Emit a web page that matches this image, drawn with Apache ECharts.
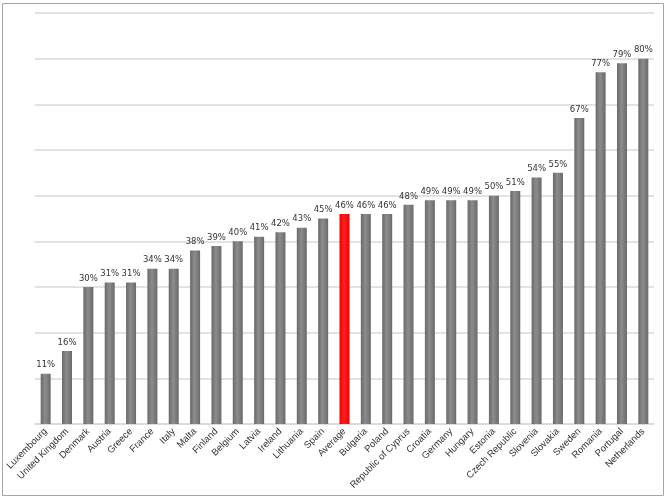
<!DOCTYPE html>
<html><head><meta charset="utf-8">
<script src="https://cdn.jsdelivr.net/npm/echarts@6/dist/echarts.min.js"></script>
<style>body{margin:0;background:#fff}#c{width:666px;height:500px}</style>
</head><body><div id="c"></div>
<script>
const categories = ["Luxembourg","United Kingdom","Denmark","Austria","Greece","France","Italy","Malta","Finland","Belgium","Latvia","Ireland","Lithuania","Spain","Average","Bulgaria","Poland","Republic of Cyprus","Croatia","Germany","Hungary","Estonia","Czech Republic","Slovenia","Slovakia","Sweden","Romania","Portugal","Netherlands"];
const values = [11,16,30,31,31,34,34,38,39,40,41,42,43,45,46,46,46,48,49,49,49,50,51,54,55,67,77,79,80];
const highlight = "Average";

const grayGrad = {type:'linear',x:0,y:0,x2:1,y2:0,colorStops:[{offset:0,color:'#6a6a6a'},{offset:0.45,color:'#8c8c8c'},{offset:1,color:'#6a6a6a'}]};
const redGrad = {type:'linear',x:0,y:0,x2:1,y2:0,colorStops:[{offset:0,color:'#ee0000'},{offset:0.45,color:'#ff2020'},{offset:1,color:'#ee0000'}]};

const chart = echarts.init(document.getElementById('c'));
chart.setOption({
  animation:false,
  graphic:[{type:'rect',shape:{x:2.5,y:3.5,width:661,height:492},style:{fill:'none',stroke:'#a6a6a6',lineWidth:1}}],
  grid:{left:35,right:12,top:13,bottom:76},
  xAxis:{type:'category',data:categories,
    axisLine:{show:true,lineStyle:{color:'#d9d9d9',width:1.5}},
    axisTick:{show:false},
    axisLabel:{rotate:45,interval:0,fontSize:9.5,color:'#333',fontFamily:'Liberation Sans, Arial',margin:6}},
  yAxis:{type:'value',min:0,max:90,interval:10,
    axisLabel:{show:false},axisLine:{show:false},axisTick:{show:false},
    splitLine:{lineStyle:{color:'#d9d9d9',width:1.5}}},
  series:[{type:'bar',barWidth:10,
    data:values.map((v,i)=>({value:v,itemStyle:{color: categories[i]===highlight?redGrad:grayGrad}})),
    label:{show:true,position:'top',formatter:'{c}%',fontSize:8.5,color:'#333',fontFamily:'DejaVu Sans, Verdana',distance:4}
  }]
});
</script></body></html>
